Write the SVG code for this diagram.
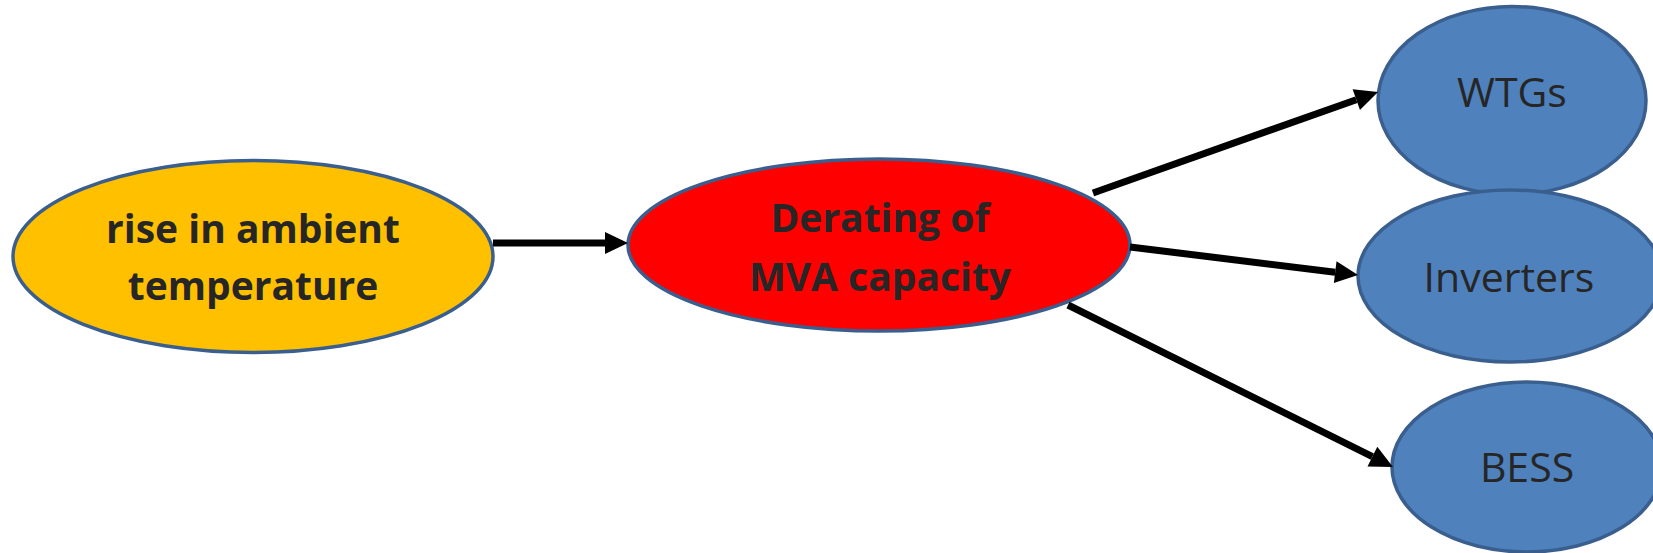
<svg xmlns="http://www.w3.org/2000/svg" width="1653" height="553" viewBox="0 0 1653 553">
  <defs>
    <style>
      .node { stroke: #3a5f8e; stroke-width: 3.5; }
      .yellow { fill: #ffc000; }
      .red { fill: #ff0000; }
      .blue { fill: #4f81bd; }
      .lbl { font-family: "Open Sans", "Noto Sans", "Liberation Sans", sans-serif; fill: #262626; text-anchor: middle; }
      .bold { font-weight: bold; font-size: 39px; }
      .reg { font-size: 41px; }
      .conn { stroke: #000; stroke-width: 7; fill: none; marker-end: url(#arrow); }
    </style>
    <marker id="arrow" markerUnits="userSpaceOnUse" markerWidth="24" markerHeight="24" viewBox="0 -12 24 24" refX="0" refY="0" orient="auto" overflow="visible">
      <path d="M0,-11 L23,0 L0,11 z" fill="#000"/>
    </marker>
  </defs>
  <rect width="1653" height="553" fill="#fff"/>

  <g id="node-rise">
    <ellipse class="node yellow" cx="253" cy="256.5" rx="240" ry="96"/>
    <text class="lbl bold" x="253" y="243">rise in ambient</text>
    <text class="lbl bold" x="253" y="300">temperature</text>
  </g>

  <g id="node-derating">
    <ellipse class="node red" cx="879" cy="245" rx="251" ry="86"/>
    <text class="lbl bold" x="880" y="232">Derating of</text>
    <text class="lbl bold" x="880" y="291">MVA capacity</text>
  </g>

  <g id="node-wtgs">
    <ellipse class="node blue" cx="1512" cy="100.5" rx="134" ry="94"/>
    <text class="lbl reg" x="1512" y="107">WTGs</text>
  </g>

  <g id="node-inverters">
    <ellipse class="node blue" cx="1510" cy="276" rx="152" ry="86"/>
    <text class="lbl reg" x="1509" y="292">Inverters</text>
  </g>

  <g id="node-bess">
    <ellipse class="node blue" cx="1527" cy="467" rx="135" ry="85"/>
    <text class="lbl reg" x="1527" y="482">BESS</text>
  </g>

  <g id="connectors">
    <path class="conn" d="M493,243 L605,243"/>
    <path class="conn" d="M1093,193 L1356.3,99.7"/>
    <path class="conn" d="M1130,247 L1335.2,272.2"/>
    <path class="conn" d="M1068,305 L1372.4,456.7"/>
  </g>
</svg>
